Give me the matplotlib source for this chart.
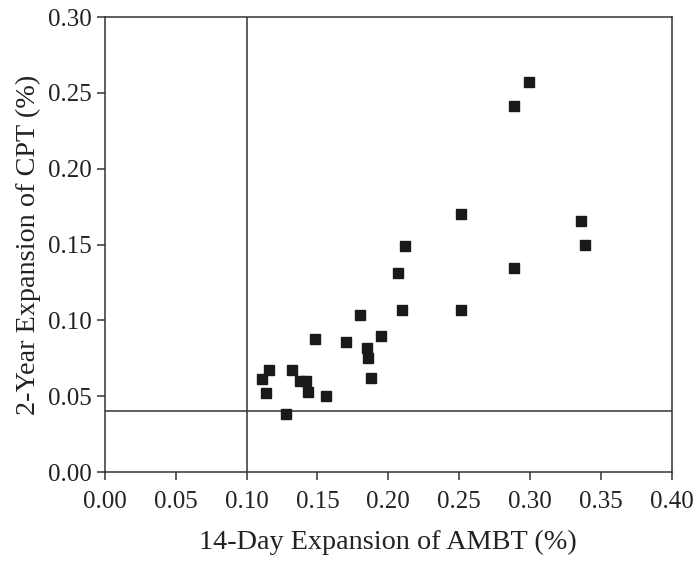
import numpy as np
import matplotlib.pyplot as plt

# 14-day AMBT expansion (%) vs 2-year CPT expansion (%)
ambt_14day = [0.111, 0.116, 0.114, 0.128, 0.132, 0.138, 0.142, 0.143, 0.148, 0.156,
              0.170, 0.180, 0.185, 0.186, 0.188, 0.195, 0.207, 0.210, 0.212,
              0.251, 0.251, 0.289, 0.299, 0.289, 0.336, 0.339]
cpt_2year = [0.0613, 0.067, 0.052, 0.038, 0.067, 0.060, 0.060, 0.053, 0.088, 0.050,
             0.086, 0.1035, 0.082, 0.075, 0.062, 0.090, 0.131, 0.107, 0.149,
             0.170, 0.107, 0.241, 0.257, 0.1345, 0.1655, 0.150]

ambt_limit = 0.10
cpt_limit = 0.04

x_ticks = np.arange(0, 0.401, 0.05)
y_ticks = np.arange(0, 0.301, 0.05)

plt.rcParams['font.family'] = ['Liberation Serif', 'DejaVu Serif']
line_color = '#333333'

fig = plt.figure(figsize=(6.99, 5.63), dpi=100)
ax = fig.add_axes([0.150, 0.1616, 0.811, 0.8082])

ax.axvline(ambt_limit, color=line_color, linewidth=1.1)
ax.axhline(cpt_limit, color=line_color, linewidth=1.1)
ax.plot(ambt_14day, cpt_2year, linestyle='none', marker='s', markersize=7,
        color='#1a1a1a', zorder=3)

ax.set_xlim(0, 0.40)
ax.set_ylim(0, 0.30)
ax.set_xticks(x_ticks)
ax.set_yticks(y_ticks)
ax.set_xticklabels([f'{v:.2f}' for v in x_ticks])
ax.set_yticklabels([f'{v:.2f}' for v in y_ticks])
ax.tick_params(direction='out', length=6, width=1.1, colors=line_color,
               labelsize=18, labelcolor='#222222')
ax.tick_params(axis='x', pad=8)
ax.tick_params(axis='y', pad=3.5)
for spine in ax.spines.values():
    spine.set_color(line_color)
    spine.set_linewidth(1.1)

ax.set_xlabel('14-Day Expansion of AMBT (%)', fontsize=20.3, color='#222222', labelpad=12)
ax.set_ylabel('2-Year Expansion of CPT (%)', fontsize=20.3, color='#222222', labelpad=5)

fig.savefig('out.png', dpi=100)
